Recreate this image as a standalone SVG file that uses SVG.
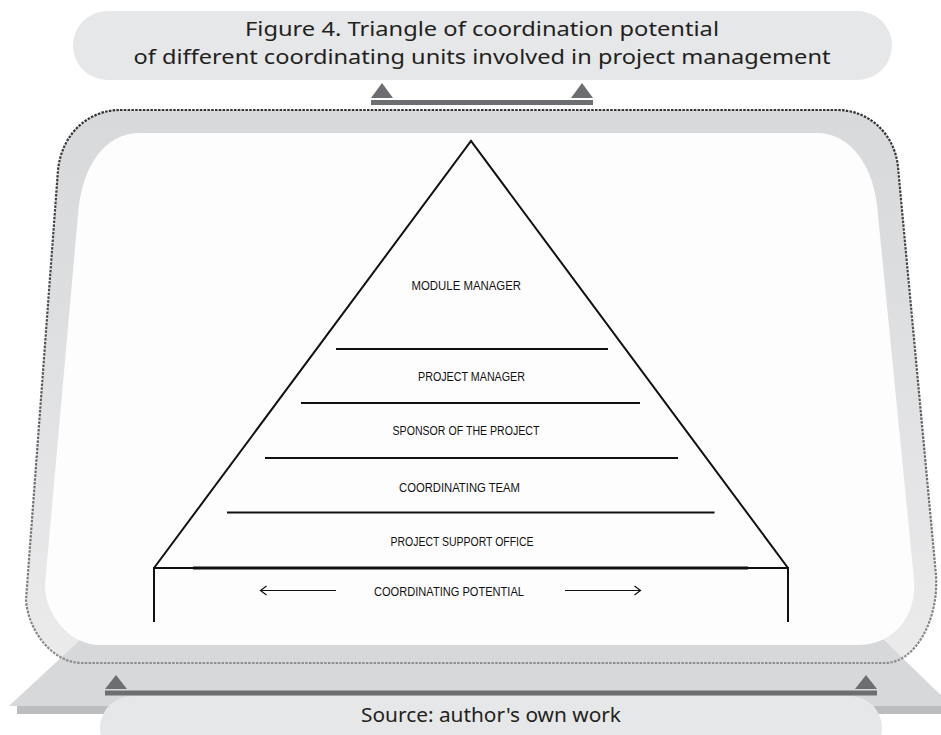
<svg xmlns="http://www.w3.org/2000/svg" width="941" height="735" viewBox="0 0 941 735">
<defs>
<linearGradient id="bandGrad" gradientUnits="userSpaceOnUse" x1="0" y1="108" x2="0" y2="663">
<stop offset="0" stop-color="#d8d9db"/>
<stop offset="0.3" stop-color="#dcdddf"/>
<stop offset="1" stop-color="#ebebec"/>
</linearGradient>
<linearGradient id="dashGrad" gradientUnits="userSpaceOnUse" x1="0" y1="108" x2="0" y2="663">
<stop offset="0" stop-color="#333335"/>
<stop offset="0.5" stop-color="#5a5a5c"/>
<stop offset="1" stop-color="#8e8e90"/>
</linearGradient>
<style>
.pill{fill:#e6e7e8}
.bar{fill:#6d6e71}
.title{font-family:"Noto Sans","Open Sans",sans-serif;font-size:20px;fill:#231f20;text-anchor:middle}
.src{font-family:"Noto Sans","Open Sans",sans-serif;font-size:20px;fill:#231f20;text-anchor:middle}
.lbl{font-family:"Liberation Sans",Arial,sans-serif;font-size:12.5px;fill:#111}
.ln{stroke:#111;stroke-width:2;fill:none}
.arr{stroke:#111;stroke-width:1.2;fill:none}
</style>
</defs>

<g id="title">
<rect class="pill" x="73" y="11" width="819" height="69" rx="34.5"/>
<text class="title" x="482" y="36" textLength="474" lengthAdjust="spacingAndGlyphs">Figure 4. Triangle of coordination potential</text>
<text class="title" x="482" y="64" textLength="697" lengthAdjust="spacingAndGlyphs">of different coordinating units involved in project management</text>
</g>

<g id="frame">
<path d="M120,110 H837 C870,110 895,135 898,167 L936,575 C939,620 915,663 885,663 H82 C52,663 28,630 26,600 L58,170 C62,132 90,110 120,110 Z" fill="url(#bandGrad)"/>
<polygon points="80,640 884,640 952,706 9,706" fill="#d7d8da"/>
<rect x="17" y="706" width="931" height="8" fill="#bcbdbf"/>
<path d="M140,133 H817 C850,133 875,165 878,215 L914,580 C917,620 890,645 858,645 H100 C70,645 45,615 45,585 L78,215 C82,165 105,133 140,133 Z" fill="#fdfdfd"/>
<path d="M120,110 H837 C870,110 895,135 898,167 L936,575 C939,620 915,663 885,663 H82 C52,663 28,630 26,600 L58,170 C62,132 90,110 120,110 Z" fill="none" stroke="url(#dashGrad)" stroke-width="2.2" stroke-dasharray="2.5 1.3"/>
</g>

<g id="pyramid">
<polyline class="ln" points="154,568 471,141 788,568"/>
<line class="ln" x1="154" y1="568" x2="788" y2="568"/>
<line x1="193" y1="568" x2="748" y2="568" stroke="#111" stroke-width="3"/>
<line class="ln" x1="154" y1="567" x2="154" y2="622"/>
<line class="ln" x1="788" y1="567" x2="788" y2="622"/>
<line class="ln" x1="336" y1="349" x2="608" y2="349"/>
<line class="ln" x1="301" y1="403" x2="640" y2="403"/>
<line class="ln" x1="265" y1="458" x2="678" y2="458"/>
<line class="ln" x1="227" y1="512.5" x2="714.5" y2="512.5"/>
</g>

<g id="module-manager"><text class="lbl" x="411.5" y="290" textLength="109.5" lengthAdjust="spacingAndGlyphs">MODULE MANAGER</text></g>
<g id="project-manager"><text class="lbl" x="418" y="381" textLength="107" lengthAdjust="spacingAndGlyphs">PROJECT MANAGER</text></g>
<g id="sponsor"><text class="lbl" x="392.5" y="435" textLength="147" lengthAdjust="spacingAndGlyphs">SPONSOR OF THE PROJECT</text></g>
<g id="coordinating-team"><text class="lbl" x="399" y="492" textLength="121" lengthAdjust="spacingAndGlyphs">COORDINATING TEAM</text></g>
<g id="project-support-office"><text class="lbl" x="390.5" y="545.5" textLength="143" lengthAdjust="spacingAndGlyphs">PROJECT SUPPORT OFFICE</text></g>
<g id="coordinating-potential">
<text class="lbl" x="374" y="596" textLength="150" lengthAdjust="spacingAndGlyphs">COORDINATING POTENTIAL</text>
<line class="arr" x1="260" y1="590.5" x2="336" y2="590.5"/>
<polyline class="arr" points="266.5,586 260.5,590.5 266.5,595"/>
<line class="arr" x1="565" y1="590.5" x2="641" y2="590.5"/>
<polyline class="arr" points="634.5,586 640.5,590.5 634.5,595"/>
</g>

<g id="connectors">
<polygon class="bar" points="371,98 382,83 393,98"/>
<polygon class="bar" points="571,98 582,83 593,98"/>
<rect class="bar" x="371" y="100" width="222" height="5"/>
<polygon class="bar" points="105,689 116,675 127,689"/>
<polygon class="bar" points="855,689 866,675 877,689"/>
<rect class="bar" x="105" y="690.5" width="772" height="5"/>
</g>

<g id="source">
<rect class="pill" x="100" y="696" width="782" height="64" rx="32"/>
<text class="src" x="491" y="722" textLength="260" lengthAdjust="spacingAndGlyphs">Source: author's own work</text>
</g>
</svg>
